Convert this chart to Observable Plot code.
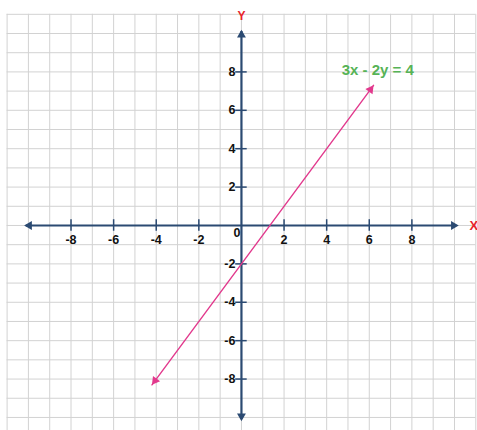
<!DOCTYPE html>
<html><head><meta charset="utf-8">
<script src="https://cdn.jsdelivr.net/npm/d3@7"></script>
<script src="https://cdn.jsdelivr.net/npm/@observablehq/plot@0.6"></script>
<style>body{margin:0;background:#fff;} #chart svg{display:block;}</style>
</head><body><div id="chart"></div>
<script>
// ---- data ----
const xTicks = [-8, -6, -4, -2, 2, 4, 6, 8];
const yTicks = [-8, -6, -4, -2, 2, 4, 6, 8];
const xTickLabels = ["-8", "-6", "-4", "-2", "2", "4", "6", "8"];
const yTickLabels = ["-8", "-6", "-4", "-2", "2", "4", "6", "8"];
const originLabel = "0";
const gridX = [-11, -10, -9, -8, -7, -6, -5, -4, -3, -2, -1, 0, 1, 2, 3, 4, 5, 6, 7, 8, 9, 10, 11];
const gridY = [-11, -10, -9, -8, -7, -6, -5, -4, -3, -2, -1, 0, 1, 2, 3, 4, 5, 6, 7, 8, 9, 10, 11];
const axisExtent = 10.2;
const lineX = [-4.2, 6.2];
const lineY = [-8.3, 7.3];
const equationText = ["3x - 2y = 4"];
const equationPos = [6.4, 8.1];
const xAxisName = "X";
const yAxisName = "Y";

// ---- styles ----
const W = 477, H = 430;
const xDom = [-11.31, 11.08], yDom = [-10.68, 11.72];
const axisColor = "#2b4a72";
const lineColor = "#e2398d";
const gridColor = "#d2d2d2";
const font = "'Liberation Sans', Arial, sans-serif";
const headR = 3.3;
const tip = 2 * Math.sqrt(Math.PI * headR * headR / (3 * Math.sqrt(3)));

const kx = W / (xDom[1] - xDom[0]);
const ky = H / (yDom[1] - yDom[0]);
const sx = (lineX[1] - lineX[0]) * kx, sy = -(lineY[1] - lineY[0]) * ky;
const len = Math.hypot(sx, sy);
const ux = sx / len, uy = sy / len;
const ang = Math.atan2(ux, -uy) * 180 / Math.PI;

const lineData = lineX.map((x, i) => ({x, y: lineY[i]}));

const chart = Plot.plot({
  width: W, height: H,
  margin: 0,
  x: {domain: xDom, axis: null},
  y: {domain: yDom, axis: null},
  style: {background: "#fff", fontFamily: font},
  marks: [
    Plot.ruleX(gridX, {x: d => d, y1: -11, y2: 11, stroke: gridColor, strokeWidth: 1}),
    Plot.ruleY(gridY, {y: d => d, x1: -11, x2: 11, stroke: gridColor, strokeWidth: 1}),
    // axes
    Plot.ruleY([0], {y: d => d, x1: -axisExtent + 0.1, x2: axisExtent - 0.1, stroke: axisColor, strokeWidth: 2.2}),
    Plot.ruleX([0], {x: d => d, y1: -axisExtent + 0.1, y2: axisExtent - 0.1, stroke: axisColor, strokeWidth: 2.2}),
    Plot.dot([axisExtent], {x: d => d, y: () => 0, symbol: "triangle", r: headR, fill: axisColor, rotate: 90, dx: -tip}),
    Plot.dot([-axisExtent], {x: d => d, y: () => 0, symbol: "triangle", r: headR, fill: axisColor, rotate: -90, dx: tip}),
    Plot.dot([axisExtent], {x: () => 0, y: d => d, symbol: "triangle", r: headR, fill: axisColor, rotate: 0, dy: tip}),
    Plot.dot([-axisExtent], {x: () => 0, y: d => d, symbol: "triangle", r: headR, fill: axisColor, rotate: 180, dy: -tip}),
    // ticks
    Plot.ruleX(xTicks, {x: d => d, y1: -0.3, y2: 0.3, stroke: axisColor, strokeWidth: 1.5}),
    Plot.ruleY(yTicks, {y: d => d, x1: -0.27, x2: 0.27, stroke: axisColor, strokeWidth: 1.5}),
    // tick labels
    Plot.text(xTicks, {x: d => d, y: () => 0, text: (d, i) => xTickLabels[i], dy: 15, fontSize: 12.5, fontWeight: "bold", fill: "#111"}),
    Plot.text(yTicks, {x: () => 0, y: d => d, text: (d, i) => yTickLabels[i], dx: -6, textAnchor: "end", fontSize: 12.5, fontWeight: "bold", fill: "#111"}),
    Plot.text([originLabel], {x: () => 0, y: () => 0, text: d => d, dx: -1, dy: 8, textAnchor: "end", fontSize: 12.5, fontWeight: "bold", fill: "#111"}),
    // axis names
    Plot.text([xAxisName], {x: () => axisExtent, y: () => 0, text: d => d, dx: 15, fontSize: 13, fontWeight: "bold", fill: "#e8232b"}),
    Plot.text([yAxisName], {x: () => 0, y: () => axisExtent, text: d => d, dy: -14, fontSize: 12, fontWeight: "bold", fill: "#e8232b"}),
    // the line 3x - 2y = 4
    Plot.line(lineData, {x: "x", y: "y", stroke: lineColor, strokeWidth: 1.4}),
    Plot.dot([lineData[1]], {x: "x", y: "y", symbol: "triangle", r: headR, fill: lineColor, rotate: ang, dx: -ux * tip, dy: -uy * tip}),
    Plot.dot([lineData[0]], {x: "x", y: "y", symbol: "triangle", r: headR, fill: lineColor, rotate: ang + 180, dx: ux * tip, dy: uy * tip}),
    Plot.text(equationText, {x: () => equationPos[0], y: () => equationPos[1], text: d => d, fontSize: 15, fontWeight: "bold", fill: "#56b356"})
  ]
});
document.getElementById("chart").appendChild(chart);
</script>
</body></html>
